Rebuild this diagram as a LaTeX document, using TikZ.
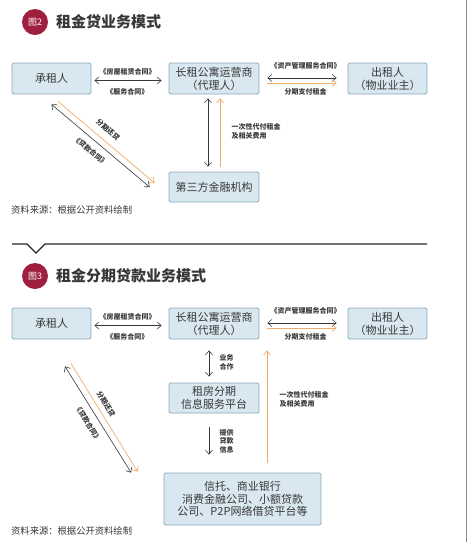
\documentclass[tikz,border=0pt]{standalone}
\usepackage{fontspec}
\newfontfamily\cjk{Noto Sans CJK SC}
\usetikzlibrary{arrows.meta}

\definecolor{boxfill}{RGB}{217,232,240}
\definecolor{boxline}{RGB}{138,168,186}
\definecolor{inkgray}{RGB}{55,55,55}
\definecolor{payorange}{RGB}{240,172,105}
\definecolor{badgered}{RGB}{158,32,62}
\definecolor{edgegray}{RGB}{140,140,140}

\tikzset{
  box/.style={draw=boxline, fill=boxfill, rounded corners=1.5pt, line width=0.8pt, inner sep=0pt, align=center, text=inkgray, font=\cjk\fontsize{11}{13}\selectfont},
  lbl/.style={inner sep=0.5pt, text=inkgray, font=\cjk\bfseries\fontsize{7}{9}\selectfont},
  badge/.style={circle, fill=badgered, text=white, minimum size=26pt, inner sep=0pt, font=\cjk\fontsize{9}{9}\selectfont},
  title/.style={anchor=west, inner sep=0pt, text=inkgray, font=\cjk\bfseries\fontsize{15}{15}\selectfont},
  src/.style={anchor=west, inner sep=0pt, text=inkgray, font=\cjk\fontsize{9.3}{10}\selectfont},
  dbl/.style={<->, draw=inkgray, line width=0.6pt},
  one/.style={->, draw=inkgray, line width=0.6pt},
  pay/.style={->, draw=payorange, line width=0.7pt},
}

\begin{document}
\begin{tikzpicture}[x=1pt,y=1pt,yscale=-1,xscale=1,>={Straight Barb[length=4pt,width=7pt]}]
\useasboundingbox (0,0) rectangle (468,542);

%Straight Lines: page edge
\draw [draw=edgegray, line width=0.6pt] (466.5,0) -- (466.5,542);

%%% Figure 2
% Text Node
\node[badge] (badgeA) at (35,22) {图2};
% Text Node
\node[title] (titleA) at (56,22) {租金贷业务模式};

%Shape: Rectangle
\node[box, minimum width=79pt, minimum height=31pt] (tenantA) at (51.5,78.5) {承租人};
\node[box, minimum width=90pt, minimum height=31pt] (agentA) at (214,78.5) {长租公寓运营商\\（代理人）};
\node[box, minimum width=79pt, minimum height=31pt] (ownerA) at (387.5,78.5) {出租人\\（物业业主）};
\node[box, minimum width=90pt, minimum height=30pt] (bankA) at (214,187) {第三方金融机构};

%Straight Lines (yscale=-1: positive yshift points down)
\draw [dbl, shorten <=3pt, shorten >=7pt] ([yshift=2]tenantA.east) -- ([yshift=2]agentA.west);
\draw [dbl, shorten <=8pt, shorten >=11pt] ([yshift=-0.5]agentA.east) -- ([yshift=-0.5]ownerA.west);
\draw [pay, shorten <=8pt, shorten >=11pt] ([yshift=4.5]agentA.east) -- ([yshift=4.5]ownerA.west);
\draw [dbl, shorten <=4pt, shorten >=5pt] ([xshift=-6]agentA.south) -- ([xshift=-6]bankA.north);
\draw [pay, shorten <=5pt, shorten >=4pt] ([xshift=6]bankA.north) -- ([xshift=6]agentA.south);
\draw [dbl] ([yshift=10]tenantA.south) -- ([xshift=-19]bankA.west);
\draw [pay] ([xshift=6.5,yshift=7]tenantA.south) -- ([xshift=-14,yshift=-4]bankA.west);

% Text Node
\node[lbl] (leaseA) at (127.5,72) {《房屋租赁合同》};
\node[lbl] (serviceA) at (127.5,92) {《服务合同》};
\node[lbl] (assetA) at (305.5,66) {《资产管理服务合同》};
\node[lbl] (rentA) at (305.5,92) {分期支付租金};
\node[lbl, anchor=west, align=left] (advanceA) at (231,131.5) {一次性代付租金\\及相关费用};
\node[lbl, rotate=-40] (repayA) at (108,129.5) {分期还贷};
\node[lbl, rotate=-40] (loanA) at (90.5,150.5) {《贷款合同》};
\node[src] (sourceA) at (11,210) {资料来源：根据公开资料绘制};

%Straight Lines: divider
\draw [line width=1.1pt, draw=black!85] (12,244) -- (27,244) -- (36,253) -- (45,244) -- (427,244);

%%% Figure 3
% Text Node
\node[badge] (badgeB) at (35,276) {图3};
% Text Node
\node[title] (titleB) at (56,276) {租金分期贷款业务模式};

%Shape: Rectangle
\node[box, minimum width=79pt, minimum height=31pt] (tenantB) at (51.5,323.5) {承租人};
\node[box, minimum width=90pt, minimum height=31pt] (agentB) at (214,323.5) {长租公寓运营商\\（代理人）};
\node[box, minimum width=79pt, minimum height=31pt] (ownerB) at (387.5,323.5) {出租人\\（物业业主）};
\node[box, minimum width=90pt, minimum height=30pt] (platformB) at (214,398) {租房分期\\信息服务平台};
\node[box, minimum width=157pt, minimum height=52pt, font=\cjk\fontsize{11}{12.5}\selectfont] (lenderB) at (242.5,499) {信托、商业银行\\消费金融公司、小额贷款\\公司、P2P网络借贷平台等};

%Straight Lines
\draw [dbl, shorten <=3pt, shorten >=7pt] ([yshift=2]tenantB.east) -- ([yshift=2]agentB.west);
\draw [dbl, shorten <=8pt, shorten >=11pt] ([yshift=-0.5]agentB.east) -- ([yshift=-0.5]ownerB.west);
\draw [pay, shorten <=8pt, shorten >=11pt] ([yshift=4.5]agentB.east) -- ([yshift=4.5]ownerB.west);
\draw [dbl, shorten <=11pt, shorten >=6pt] ([xshift=-5]agentB.south) -- ([xshift=-5]platformB.north);
\draw [one, shorten <=14pt, shorten >=18pt] ([xshift=-5]platformB.south) -- ([xshift=-5]platformB.south |- lenderB.north);
\draw [pay, shorten <=10pt, shorten >=11pt] ([xshift=24.5]lenderB.north) -- ([xshift=53]agentB.south);
\draw [dbl] ([xshift=13.5,yshift=27]tenantB.south) -- ([xshift=-32.5]lenderB.north west);
\draw [pay] ([xshift=19.5,yshift=24]tenantB.south) -- ([xshift=-26,yshift=-1]lenderB.north west);

% Text Node
\node[lbl] (leaseB) at (127.5,317) {《房屋租赁合同》};
\node[lbl] (serviceB) at (127.5,337) {《服务合同》};
\node[lbl] (assetB) at (305.5,311) {《资产管理服务合同》};
\node[lbl] (rentB) at (305.5,337) {分期支付租金};
\node[lbl, anchor=west, align=left] (coopB) at (219,362) {业务\\合作};
\node[lbl, anchor=west, align=left, font=\cjk\bfseries\fontsize{7}{8.5}\selectfont] (infoB) at (219,441) {提供\\贷款\\信息};
\node[lbl, anchor=west, align=left] (advanceB) at (279,399) {一次性代付租金\\及相关费用};
\node[lbl, rotate=-58] (repayB) at (106,404) {分期还贷};
\node[lbl, rotate=-58] (loanB) at (88,423) {《贷款合同》};
\node[src] (sourceB) at (11,531) {资料来源：根据公开资料绘制};

\end{tikzpicture}
\end{document}
